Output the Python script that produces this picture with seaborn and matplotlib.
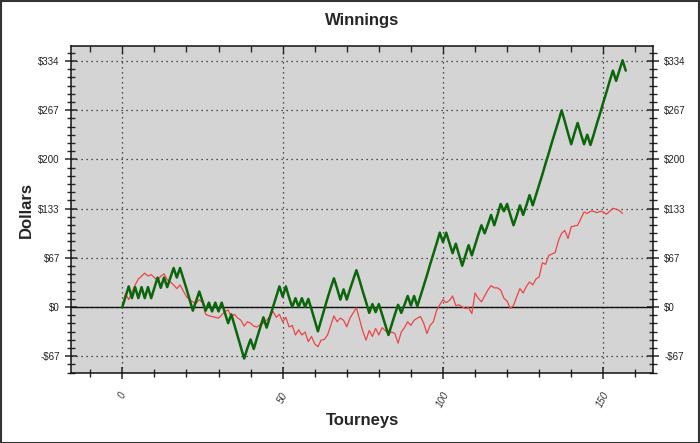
import numpy as np
import pandas as pd
import matplotlib
matplotlib.use("Agg")
import matplotlib.pyplot as plt
import seaborn as sns
from matplotlib.ticker import FixedLocator, MultipleLocator

# ---- data ----
green_vals = [0, 14, 28, 12, 27, 12, 27, 12, 27, 12, 26, 40, 26, 40, 27, 40, 53, 40, 53, 39,
              25, 10, -5, 8, 21, 8, -5, 6, -6, 6, -6, 6, -8, -22, -10, -25, -40, -55, -70, -56,
              -44, -57, -42, -28, -14, -28, -14, 0, 14, 28, 14, 28, 13, 0, 12, 0, 12, 0, 11, -3,
              -18, -33, -18, -3, 12, 26, 39, 25, 10, 24, 10, 24, 37, 50, 36, 21, 7, -8, 4, -7,
              4, -10, -24, -38, -24, -10, 3, -8, 3, 15, 2, 15, 1, 15, 29, 43, 58, 72, 86, 101,
              88, 101, 87, 73, 86, 71, 56, 70, 84, 70, 84, 98, 111, 100, 112, 125, 111, 125, 140, 130,
              140, 125, 111, 124, 138, 125, 138, 152, 138, 152, 166, 180, 195, 209, 224, 238, 252, 267, 252, 236,
              221, 236, 250, 235, 221, 234, 220, 234, 249, 263, 278, 292, 307, 321, 307, 321, 335, 321]
red_vals = [0, 18, 10, 20, 30, 38, 42, 46, 42, 44, 40, 36, 42, 45, 37, 34, 30, 25, 30, 22,
            14, 10, 7, 5, 10, 6, -10, -12, -13, -14, -15, -11, -6, -4, -13, -10, -15, -18, -26, -20,
            -22, -26, -27, -24, -22, -18, -13, -6, -14, -10, -20, -14, -27, -25, -38, -31, -38, -34, -47, -40,
            -50, -54, -45, -44, -38, -25, -12, -20, -15, -18, -27, -15, -8, -1, -17, -33, -45, -32, -40, -29,
            -38, -28, -32, -36, -34, -36, -49, -34, -28, -20, -25, -18, -15, -13, -22, -36, -25, -20, -5, 3,
            10, 6, 9, 15, 2, 3, 0, -2, -1, -9, 19, 12, 7, 15, 23, 29, 26, 26, 23, 12,
            8, -2, 2, 14, 25, 19, 28, 34, 30, 38, 41, 60, 58, 70, 72, 74, 90, 100, 104, 93,
            109, 110, 111, 120, 129, 127, 130, 130, 128, 130, 129, 126, 130, 134, 133, 131, 127]
y_ticks = [-66.8, 0, 66.8, 133.6, 200.4, 267.2, 334]
y_labels = ["-$67", "$0", "$67", "$133", "$200", "$267", "$334"]
x_ticks = [0, 50, 100, 150]
x_labels = ["0", "50", "100", "150"]

df = pd.concat([
    pd.DataFrame({"Tourneys": np.arange(len(green_vals)), "Dollars": green_vals, "series": "A"}),
    pd.DataFrame({"Tourneys": np.arange(len(red_vals)), "Dollars": red_vals, "series": "B"}),
])

sns.set_style("white")
plt.rcParams["font.family"] = ["Liberation Sans", "DejaVu Sans"]

fig = plt.figure(figsize=(7.0, 4.43), dpi=100)
ax = fig.add_axes([71 / 700, 70 / 443, 582 / 700, 327 / 443])
ax.set_facecolor("#d4d4d4")

sns.lineplot(data=df[df.series == "B"], x="Tourneys", y="Dollars", color="#ee4444",
             linewidth=0.9, ax=ax, legend=False, zorder=3)
sns.lineplot(data=df[df.series == "A"], x="Tourneys", y="Dollars", color="#0b650b",
             linewidth=1.8, ax=ax, legend=False, zorder=4)

ax.axhline(0, color="#111111", linewidth=1.0, zorder=2)

ax.set_xlim(-16, 165.5)
ax.set_ylim(-89.6, 354.4)

minor_x = [v for v in range(-10, 165, 10) if v % 50 != 0]
ax.xaxis.set_major_locator(FixedLocator(x_ticks))
ax.xaxis.set_minor_locator(FixedLocator(minor_x))
ax.set_xticklabels(x_labels, rotation=62, fontsize=7, color="#333333")
for lab in ax.get_xticklabels():
    lab.set_fontstyle("italic")

ax.yaxis.set_major_locator(FixedLocator(y_ticks))
ax.yaxis.set_minor_locator(MultipleLocator(66.8 / 6))
ax.set_yticklabels(y_labels, fontsize=7, color="#222222")

ax.grid(True, which="major", color="#222222", linestyle=(0, (1, 3)), linewidth=0.9, zorder=1)

ax.tick_params(axis="y", which="major", direction="inout", length=8, width=1.1,
               left=True, right=True, labelleft=True, labelright=True, pad=4)
ax.tick_params(axis="y", which="minor", direction="inout", length=6, width=1.0,
               left=True, right=True)
ax.tick_params(axis="x", which="major", direction="inout", length=9, width=1.1,
               bottom=True, top=False, pad=8)
ax.tick_params(axis="x", which="minor", direction="inout", length=6, width=1.0,
               bottom=True, top=False)

sec = ax.secondary_xaxis("top")
sec.xaxis.set_major_locator(FixedLocator(x_ticks))
sec.xaxis.set_minor_locator(FixedLocator(minor_x))
sec.tick_params(which="major", direction="in", length=6, width=1.0, labeltop=False)
sec.tick_params(which="minor", direction="in", length=4, width=1.0)
sec.spines["top"].set_visible(False)

for s in ax.spines.values():
    s.set_color("#111111")
    s.set_linewidth(1.1)

ax.set_xlabel("Tourneys", fontsize=12, fontweight="bold", labelpad=3)
ax.set_ylabel("Dollars", fontsize=12, fontweight="bold", labelpad=3)
ax.set_title("Winnings", fontsize=12, fontweight="bold", pad=15)

fig.patches.append(plt.Rectangle((0.001, 0.001), 0.997, 0.997, transform=fig.transFigure,
                                 fill=False, edgecolor="#333333", linewidth=1.5))

fig.savefig("out.png", dpi=100)
